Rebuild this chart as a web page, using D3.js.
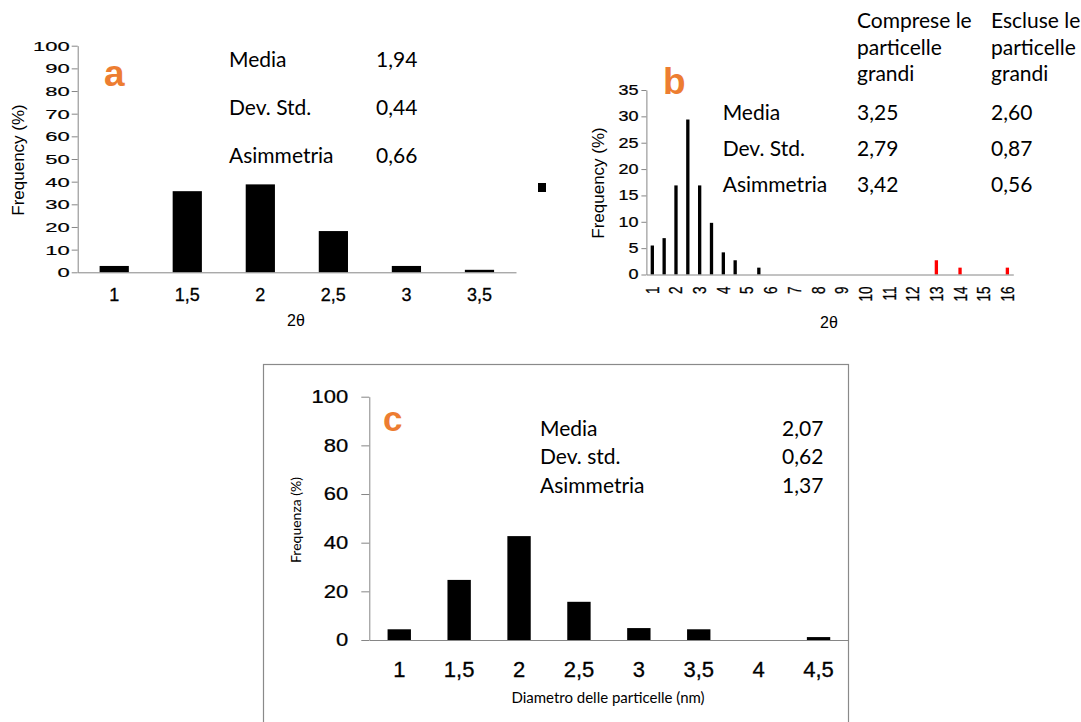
<!DOCTYPE html>
<html>
<head>
<meta charset="utf-8">
<script src="https://cdn.jsdelivr.net/npm/d3@7"></script>
<style>
  body { margin: 0; background: #fff; }
  svg { display: block; }
</style>
</head>
<body>
<script>
// colours and fonts
const AXIS_GREY = "#868686";
const ORANGE = "#ED7D31";
const ARIAL = "Liberation Sans, Arial, sans-serif";
const CALIBRI = "Lato, 'Open Sans', sans-serif";

// ---- panel a data ----
const aCats = ["1", "1,5", "2", "2,5", "3", "3,5"];
const aValues = [2.8, 35.8, 38.8, 18.2, 2.8, 1.1];
const aTicks = [0, 10, 20, 30, 40, 50, 60, 70, 80, 90, 100];
const aStatNames = ["Media", "Dev. Std.", "Asimmetria"];
const aStatValues = ["1,94", "0,44", "0,66"];

// ---- panel b data ----
const bCats = ["1", "1,5", "2", "2,5", "3", "3,5", "4", "4,5", "5", "5,5",
  "6", "6,5", "7", "7,5", "8", "8,5", "9", "9,5", "10", "10,5",
  "11", "11,5", "12", "12,5", "13", "13,5", "14", "14,5", "15", "15,5", "16"];
const bLabels = ["1", "2", "3", "4", "5", "6", "7", "8", "9", "10", "11", "12", "13", "14", "15", "16"];
const bSmallCats = ["1", "1,5", "2", "2,5", "3", "3,5", "4", "4,5", "5,5"];
const bSmallValues = [5.5, 6.9, 16.9, 29.4, 16.9, 9.8, 4.2, 2.7, 1.3];
const bLargeCats = ["13", "14", "16"];
const bLargeValues = [2.7, 1.3, 1.3];
const bTicks = [0, 5, 10, 15, 20, 25, 30, 35];
const bStatNames = ["Media", "Dev. Std.", "Asimmetria"];
const bHeaders = [["Comprese le", "particelle", "grandi"], ["Escluse le", "particelle", "grandi"]];
const bStatWith = ["3,25", "2,79", "3,42"];
const bStatWithout = ["2,60", "0,87", "0,56"];

// ---- panel c data ----
const cCats = ["1", "1,5", "2", "2,5", "3", "3,5", "4", "4,5"];
const cValues = [4.4, 24.7, 42.7, 15.7, 4.9, 4.4, 0, 1.2];
const cTicks = [0, 20, 40, 60, 80, 100];
const cStatNames = ["Media", "Dev. std.", "Asimmetria"];
const cStatValues = ["2,07", "0,62", "1,37"];

const svg = d3.select("body").append("svg")
  .attr("width", 1081)
  .attr("height", 722);

function styleAxis(g, size) {
  g.attr("font-family", ARIAL).attr("font-size", size);
  g.selectAll(".domain").attr("stroke", AXIS_GREY);
  g.selectAll(".tick line").attr("stroke", AXIS_GREY);
  g.selectAll(".tick text").attr("fill", "#000")
    .attr("stroke", "#000").attr("stroke-width", 0.3);
}

function addText(x, y, str, size, family, opts = {}) {
  return svg.append("text")
    .attr("x", x).attr("y", y)
    .attr("font-family", family)
    .attr("font-size", size)
    .attr("font-weight", opts.weight || "normal")
    .attr("fill", opts.fill || "#000")
    .attr("text-anchor", opts.anchor || "start")
    .text(str);
}

/*************
 * PANEL A
 *************/
const ax = d3.scaleBand().domain(aCats).range([77.7, 516]).paddingInner(0.6).paddingOuter(0.3);
const ay = d3.scaleLinear().domain([0, 100]).range([272.3, 45.7]);

svg.append("g").selectAll("rect")
  .data(aCats)
  .join("rect")
  .attr("x", d => ax(d))
  .attr("y", (d, i) => ay(aValues[i]))
  .attr("width", ax.bandwidth())
  .attr("height", (d, i) => ay(0) - ay(aValues[i]))
  .attr("fill", "#000");

const aYAxis = svg.append("g")
  .attr("transform", "translate(77.7,0)")
  .call(d3.axisLeft(ay).tickValues(aTicks).tickSize(6).tickSizeOuter(0).tickPadding(2));
styleAxis(aYAxis, 22);
aYAxis.selectAll(".tick text").attr("transform", "scale(1,0.62)");

const aXAxis = svg.append("g")
  .attr("transform", `translate(0,${ay(0)})`)
  .call(d3.axisBottom(ax).tickSize(0).tickSizeOuter(0).tickPadding(16));
styleAxis(aXAxis, 18);

addText(0, 0, "Frequency (%)", 17, ARIAL, { anchor: "middle" })
  .attr("transform", "translate(24,160) rotate(-90)");
addText(296, 326, "2θ", 16, ARIAL, { anchor: "middle" });
addText(104, 86, "a", 37, ARIAL, { weight: "bold", fill: ORANGE });

aStatNames.forEach((s, i) => {
  const yy = [66.7, 115, 162.7][i];
  addText(229, yy, s, 21, CALIBRI);
  addText(376, yy, aStatValues[i], 21, CALIBRI);
});

// small black marker between the panels
svg.append("rect").attr("x", 538).attr("y", 183).attr("width", 8).attr("height", 9).attr("fill", "#000");

/*************
 * PANEL B
 *************/
const bx = d3.scaleBand().domain(bCats).range([646.4, 1013.3]).paddingInner(0.72).paddingOuter(0.36);
const by = d3.scaleLinear().domain([0, 35]).range([274.5, 90]);

svg.append("g").selectAll("rect")
  .data(bSmallCats)
  .join("rect")
  .attr("x", d => bx(d))
  .attr("y", (d, i) => by(bSmallValues[i]))
  .attr("width", bx.bandwidth())
  .attr("height", (d, i) => by(0) - by(bSmallValues[i]))
  .attr("fill", "#000");

svg.append("g").selectAll("rect")
  .data(bLargeCats)
  .join("rect")
  .attr("x", d => bx(d))
  .attr("y", (d, i) => by(bLargeValues[i]))
  .attr("width", bx.bandwidth())
  .attr("height", (d, i) => by(0) - by(bLargeValues[i]))
  .attr("fill", "#FF0000");

const bYAxis = svg.append("g")
  .attr("transform", "translate(646.4,0)")
  .call(d3.axisLeft(by).tickValues(bTicks).tickSize(5).tickSizeOuter(0).tickPadding(3));
styleAxis(bYAxis, 18);
bYAxis.selectAll(".tick text").attr("transform", "scale(1,0.78)");

const bXAxis = svg.append("g")
  .attr("transform", `translate(0,${by(0)})`)
  .call(d3.axisBottom(bx).tickValues(bLabels).tickSize(0).tickSizeOuter(0));
styleAxis(bXAxis, 18);
bXAxis.selectAll(".tick text")
  .attr("transform", "rotate(-90) scale(0.75,1)")
  .attr("text-anchor", "end")
  .attr("x", -16)
  .attr("y", 0)
  .attr("dy", "0.36em");

addText(0, 0, "Frequency (%)", 17, ARIAL, { anchor: "middle" })
  .attr("transform", "translate(604,183) rotate(-90)");
addText(829, 328, "2θ", 16, ARIAL, { anchor: "middle" });
addText(663, 94.3, "b", 37, ARIAL, { weight: "bold", fill: ORANGE });

bHeaders.forEach((lines, c) => {
  lines.forEach((s, r) => addText([857, 991][c], [28.3, 55, 81][r], s, 21, CALIBRI));
});
bStatNames.forEach((s, i) => {
  const yy = [119.5, 156, 191.5][i];
  addText(722.7, yy, s, 21, CALIBRI);
  addText(857, yy, bStatWith[i], 21, CALIBRI);
  addText(991, yy, bStatWithout[i], 21, CALIBRI);
});

/*************
 * PANEL C
 *************/
svg.append("rect")
  .attr("x", 263.5).attr("y", 364.5)
  .attr("width", 585).attr("height", 380)
  .attr("fill", "none")
  .attr("stroke", "#8a8a8a")
  .attr("stroke-width", 1.2);

const cx = d3.scaleBand().domain(cCats).range([369.3, 848.5]).paddingInner(0.61).paddingOuter(0.305);
const cy = d3.scaleLinear().domain([0, 100]).range([640, 396.7]);

svg.append("g").selectAll("rect")
  .data(cCats)
  .join("rect")
  .attr("x", d => cx(d))
  .attr("y", (d, i) => cy(cValues[i]))
  .attr("width", cx.bandwidth())
  .attr("height", (d, i) => cy(0) - cy(cValues[i]))
  .attr("fill", "#000");

const cYAxis = svg.append("g")
  .attr("transform", "translate(369.3,0)")
  .call(d3.axisLeft(cy).tickValues(cTicks).tickSize(8).tickSizeOuter(0).tickPadding(13));
styleAxis(cYAxis, 22);
cYAxis.selectAll(".tick text").attr("transform", "scale(1,0.82)");

const cXAxis = svg.append("g")
  .attr("transform", `translate(0,${cy(0)})`)
  .call(d3.axisBottom(cx).tickSize(0).tickSizeOuter(0).tickPadding(21));
styleAxis(cXAxis, 22);

addText(0, 0, "Frequenza (%)", 14, CALIBRI, { anchor: "middle" })
  .attr("transform", "translate(301,520) rotate(-90)");
addText(608, 703, "Diametro delle particelle (nm)", 15, CALIBRI, { anchor: "middle" });
addText(383, 430.7, "c", 35, ARIAL, { weight: "bold", fill: ORANGE });

cStatNames.forEach((s, i) => {
  const yy = [436, 464.3, 492.7][i];
  addText(540, yy, s, 21, CALIBRI);
  addText(782, yy, cStatValues[i], 21, CALIBRI);
});
</script>
</body>
</html>
